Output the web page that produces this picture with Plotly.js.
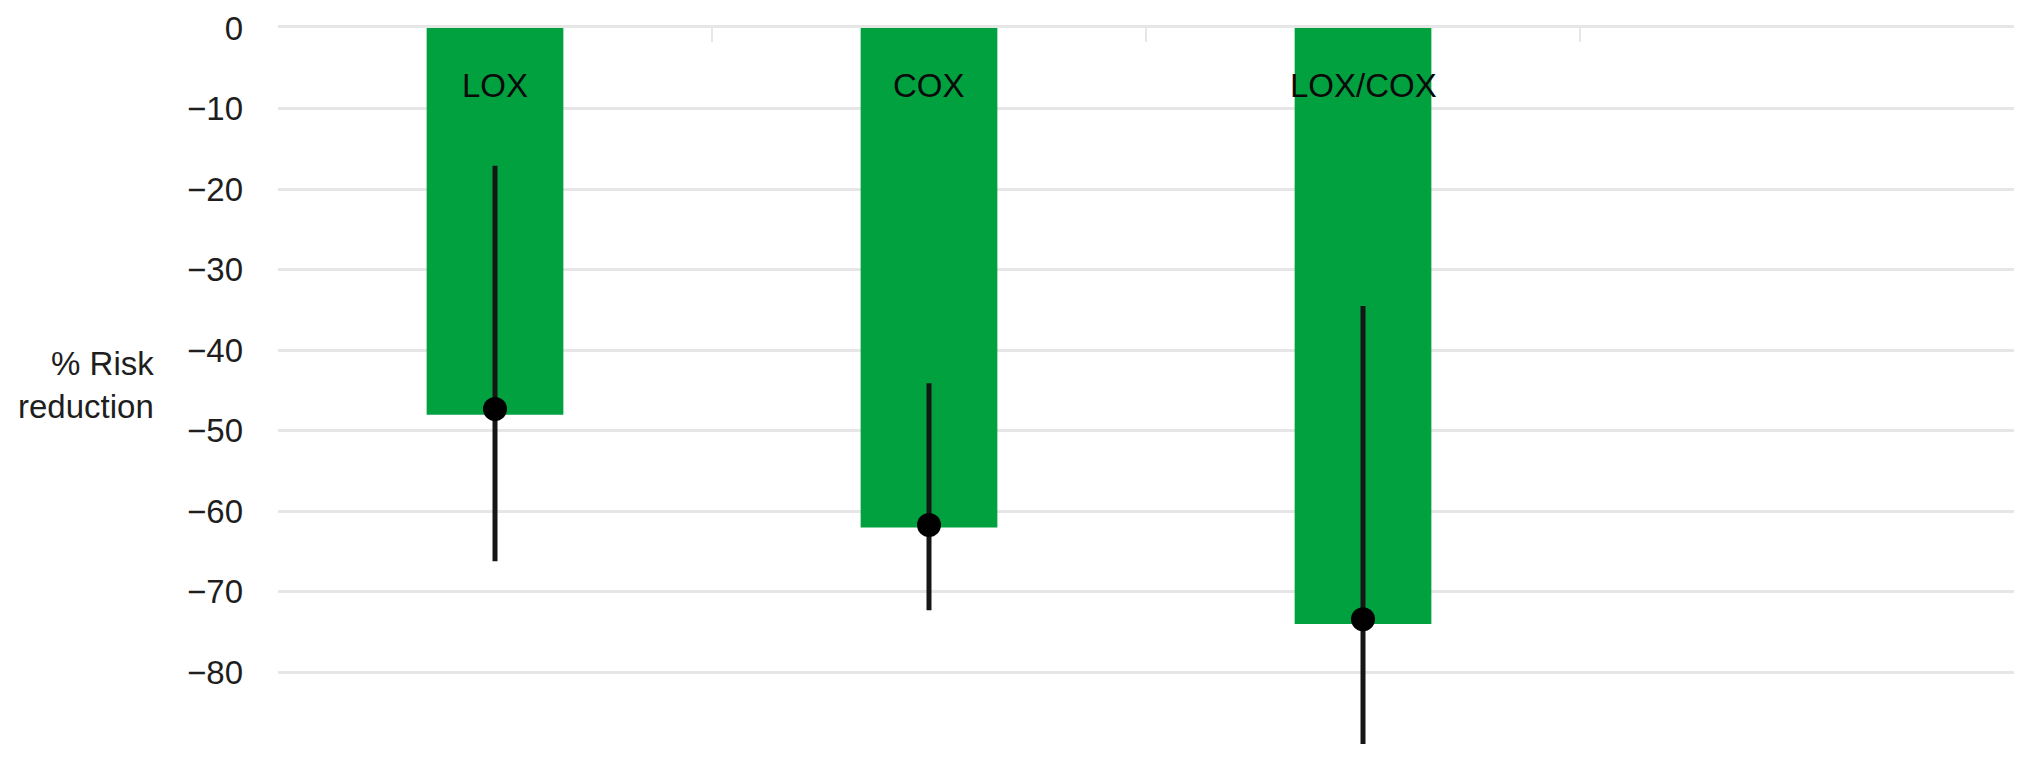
<!DOCTYPE html>
<html>
<head>
<meta charset="utf-8">
<script src="https://cdn.plot.ly/plotly-3.0.1.min.js"></script>
<style>
  html, body { margin: 0; padding: 0; background: #ffffff; }
  #chart { width: 2032px; height: 767px; }
</style>
</head>
<body>
<div id="chart"></div>
<script>
// ---- Data ----
const categories   = ["LOX", "COX", "LOX/COX"];
const barValues    = [-48.0, -62.0, -74.0];   // % risk reduction (bar length)
const pointValues  = [-47.3, -61.7, -73.4];   // point estimate (dot)
const ciUpper      = [-17.1, -44.1, -34.5];   // upper end of interval line
const ciLower      = [-66.2, -72.3, -88.9];   // lower end of interval line
const yTickValues  = [0, -10, -20, -30, -40, -50, -60, -70, -80];
const yAxisTitle   = "% Risk<br>reduction";

// ---- Styles ----
const FONT = "Liberation Sans, Arial, Helvetica, sans-serif";
const GREEN = "#02a13f";
const GRID = "#e6e6e6";

const errPlus  = ciUpper.map((u, i) => u - pointValues[i]);
const errMinus = ciLower.map((l, i) => pointValues[i] - l);

const traces = [
  {
    type: "bar",
    x: categories,
    y: barValues,
    marker: { color: GREEN, line: { width: 0 } },
    hoverinfo: "skip",
    showlegend: false
  },
  {
    type: "scatter",
    mode: "markers",
    x: categories,
    y: pointValues,
    marker: { color: "#000000", size: 24 },
    error_y: {
      type: "data",
      symmetric: false,
      array: errPlus,
      arrayminus: errMinus,
      width: 0,
      thickness: 5,
      color: "#161616"
    },
    cliponaxis: false,
    hoverinfo: "skip",
    showlegend: false
  }
];

const annotations = categories.map(c => ({
  x: c, xref: "x",
  y: -7.1, yref: "y",
  text: c,
  showarrow: false,
  xanchor: "center", yanchor: "middle",
  font: { family: FONT, size: 33, color: "#0a0a0a" }
}));

annotations.push({
  xref: "paper", x: -0.0700,
  yref: "paper", y: 0.513,
  xanchor: "right", yanchor: "middle",
  align: "right",
  text: yAxisTitle,
  showarrow: false,
  font: { family: FONT, size: 33, color: "#1e1e1e" }
});

const layout = {
  width: 2032,
  height: 767,
  margin: { l: 278, r: 18, t: 28, b: 6, pad: 0 },
  paper_bgcolor: "#ffffff",
  plot_bgcolor: "#ffffff",
  bargap: 0.685,
  showlegend: false,
  hovermode: false,
  font: { family: FONT, color: "#1e1e1e" },
  xaxis: {
    type: "category",
    side: "top",
    range: [-0.5, 3.5],
    showgrid: false,
    zeroline: false,
    showline: true,
    linecolor: GRID,
    linewidth: 3,
    ticks: "inside",
    tickson: "boundaries",
    ticklen: 14,
    tickwidth: 2,
    tickcolor: "#e6e6e6",
    showticklabels: false,
    fixedrange: true
  },
  yaxis: {
    range: [-91, 0],
    tickmode: "array",
    tickvals: yTickValues,
    showgrid: true,
    gridcolor: GRID,
    gridwidth: 3,
    zeroline: false,
    showline: false,
    ticks: "",
    ticklabelstandoff: 34,
    tickfont: { family: FONT, size: 33, color: "#1e1e1e" },
    fixedrange: true
  },
  annotations: annotations
};

Plotly.newPlot("chart", traces, layout, { staticPlot: true, displayModeBar: false });
</script>
</body>
</html>
